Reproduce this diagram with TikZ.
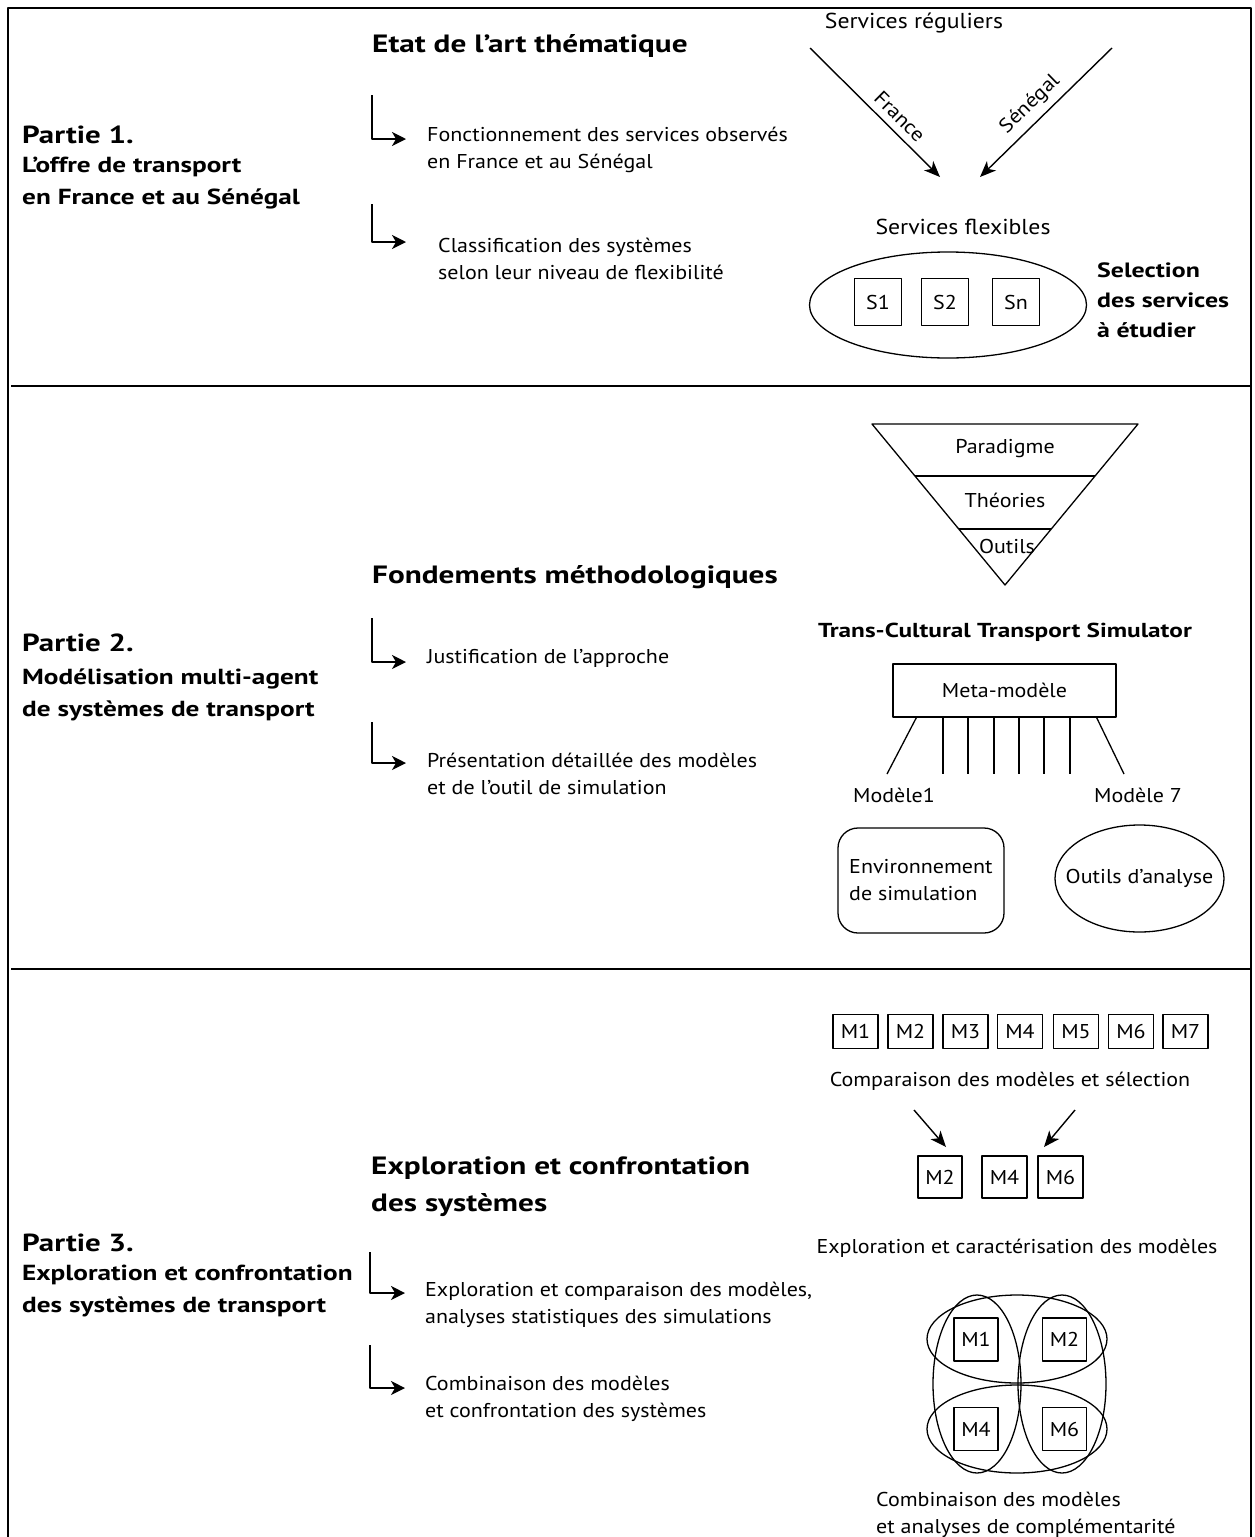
\documentclass[tikz,border=0pt]{standalone}
\usepackage{fontspec}
\setmainfont{PT Sans}[FakeStretch=1.1]
\newfontfamily\bfam{PT Sans}[FakeStretch=1.25]
\usetikzlibrary{arrows.meta,shapes.geometric,calc}
\begin{document}
\begin{tikzpicture}[x=1pt,y=-1pt,line join=round,
  body/.style={font=\fontsize{20}{27}\selectfont, inner sep=0pt, align=left, anchor=west},
  ctext/.style={font=\fontsize{20}{27}\selectfont, inner sep=0pt, align=center},
  big/.style={font=\fontsize{21.6}{27}\selectfont, inner sep=0pt},
  head/.style={font=\fontsize{25}{37}\selectfont\bfam\bfseries, inner sep=0pt, align=left, anchor=west},
  partt/.style={font=\fontsize{24.7}{30}\selectfont\bfam\bfseries, inner sep=0pt, anchor=west},
  partsub/.style={font=\fontsize{21.8}{31.5}\selectfont\bfam\bfseries, inner sep=0pt, align=left, anchor=west},
  selt/.style={font=\fontsize{20.7}{30}\selectfont\bfam\bfseries, inner sep=0pt, align=left, anchor=west},
  sbox/.style={draw, line width=1.3pt, inner sep=0pt, minimum width=47pt, minimum height=47pt, font=\fontsize{20}{24}\selectfont},
  mbox/.style={draw, line width=1.3pt, inner sep=0pt, minimum width=45pt, minimum height=34pt, font=\fontsize{20}{24}\selectfont},
  nbox/.style={draw, line width=1.3pt, inner sep=0pt, minimum width=45pt, minimum height=42pt, font=\fontsize{20}{24}\selectfont},
  vbox/.style={draw, line width=1.3pt, inner sep=0pt, minimum width=44pt, minimum height=43pt, font=\fontsize{20}{24}\selectfont},
  elbow/.style={-{Stealth[length=14pt,width=14pt,inset=4pt]}, line width=1.4pt},
  diag/.style={-{Stealth[length=16pt,width=13pt,inset=4.5pt]}, line width=1.4pt},
  thin/.style={line width=1.3pt},
  rule/.style={line width=1.6pt}
]
\useasboundingbox (0,0) rectangle (1255,1537);
\fill[white] (0,0) rectangle (1255,1537);

% frame and dividers
\draw[thin] (8,1560) -- (8,8) -- (1251,8) -- (1251,1560);
\coordinate (d1a) at (11,386); \coordinate (d1b) at (1251,386);
\coordinate (d2a) at (11,969); \coordinate (d2b) at (1251,969);
\draw[rule] (d1a) -- (d1b);
\draw[rule] (d2a) -- (d2b);

% ---------- Part 1 ----------
\node[partt] (p1) at (22,135) {Partie 1.};
\node[partsub] (p1s) at (22,183) {L’offre de transport\\en France et au Sénégal};
\node[head] (h1) at (372,46) {Etat de l’art thématique};

\coordinate (e1s) at (372,95);  \coordinate (e1e) at (406,139);
\coordinate (e2s) at (372,204); \coordinate (e2e) at (406,242);
\draw[elbow] (e1s) |- (e1e);
\draw[elbow] (e2s) |- (e2e);
\node[body] (t11) at (427,150) {Fonctionnement des services observés\\en France et au Sénégal};
\node[body] (t12) at (438,259) {Classification des systèmes\\selon leur niveau de flexibilité};

\node[big] (sreg) at (914,23) {Services réguliers};
\coordinate (fr1) at (810,48);  \coordinate (fr2) at (940,177);
\coordinate (sn1) at (1112,48); \coordinate (sn2) at (980,177);
\draw[diag] (fr1) -- node[pos=0.61, sloped, above=7pt, ctext] {France} (fr2);
\draw[diag] (sn1) -- node[pos=0.53, sloped, above=7pt, ctext] {Sénégal} (sn2);

\node[big] (sflex) at (963,227) {Services flexibles};
\node[draw, ellipse, thin, minimum width=277pt, minimum height=106pt, inner sep=0pt] (ell1) at (948,305) {};
\node[sbox] (s1) at (878,302) {S1};
\node[sbox] (s2) at (945,302) {S2};
\node[sbox] (sn) at (1016,302) {Sn};
\node[selt] (sel) at (1097,300) {Selection\\des services\\à étudier};

% ---------- Part 2 ----------
\node[partt] (p2) at (22,643) {Partie 2.};
\node[partsub] (p2s) at (22,695) {Modélisation multi-agent\\de systèmes de transport};
\node[head] (h2) at (372,577) {Fondements méthodologiques};

\coordinate (e3s) at (372,618); \coordinate (e3e) at (406,662);
\coordinate (e4s) at (372,722); \coordinate (e4e) at (406,763);
\draw[elbow] (e3s) |- (e3e);
\draw[elbow] (e4s) |- (e4e);
\node[body] (t21) at (427,658) {Justification de l’approche};
\node[body] (t22) at (427,774) {Présentation détaillée des modèles\\et de l’outil de simulation};

% inverted pyramid
\coordinate (ta) at (872,424); \coordinate (tb) at (1138,424); \coordinate (tc) at (1005,585);
\draw[thin] (ta) -- (tb) -- (tc) -- cycle;
\coordinate (l1a) at ($(ta)!0.323!(tc)$); \coordinate (l1b) at ($(tb)!0.323!(tc)$);
\coordinate (l2a) at ($(ta)!0.652!(tc)$); \coordinate (l2b) at ($(tb)!0.652!(tc)$);
\draw[thin] (l1a) -- (l1b);
\draw[thin] (l2a) -- (l2b);
\node[ctext] (par) at (1005,449) {Paradigme};
\node[ctext] (the) at (1005,500) {Théories};
\node[ctext] (out) at (1007,546) {Outils};

\node[font=\fontsize{20.2}{26}\selectfont\bfam\bfseries, inner sep=0pt] (tcts) at (1005,632) {Trans-Cultural Transport Simulator};
\node[draw, thin, minimum width=223pt, minimum height=53pt, inner sep=0pt, font=\fontsize{20}{24}\selectfont] (meta) at (1004.5,690.5) {Meta-modèle};
\coordinate (me1) at (887,774);
\coordinate (me7) at (1124,774);
\draw[thin] ([xshift=24pt]meta.south west) -- (me1);
\draw[thin] ([xshift=-20pt]meta.south east) -- (me7);
\foreach \i/\xx in {1/943,2/968,3/994,4/1019,5/1044,6/1070}{
  \coordinate (mv\i) at (\xx,774);
  \draw[thin] (meta.south -| mv\i) -- (mv\i);
}
\node[ctext] (mod1) at (894,795) {Modèle1};
\node[ctext] (mod7) at (1138,795) {Modèle 7};
\node[draw, thin, rounded corners=20pt, minimum width=166pt, minimum height=105pt, inner sep=0pt] (envb) at (921,880.5) {};
\node[body] (envt) at (849,880) {Environnement\\de simulation};
\node[draw, ellipse, thin, minimum width=169pt, minimum height=107pt, inner sep=0pt] (outa) at (1139.5,878.5) {};
\node[ctext] (outat) at (1139.5,878) {Outils d’analyse};

% ---------- Part 3 ----------
\node[partt] (p3) at (22,1243) {Partie 3.};
\node[partsub] (p3s) at (22,1291) {Exploration et confrontation\\des systèmes de transport};
\node[head] (h3) at (371,1187) {Exploration et confrontation\\des systèmes};

\coordinate (e5s) at (370,1252); \coordinate (e5e) at (405,1293);
\coordinate (e6s) at (370,1345); \coordinate (e6e) at (405,1388);
\draw[elbow] (e5s) |- (e5e);
\draw[elbow] (e6s) |- (e6e);
\node[body] (t31) at (425,1305) {Exploration et comparaison des modèles,\\analyses statistiques des simulations};
\node[body] (t32) at (425,1399) {Combinaison des modèles\\et confrontation des systèmes};

\foreach \i/\xx in {1/855.5,2/910.5,3/965.5,4/1020,5/1076,6/1131,7/1185.5}{
  \node[mbox] (M\i) at (\xx,1031.5) {M\i};
}
\node[ctext] (comp) at (1010,1081) {Comparaison des modèles et sélection};
\coordinate (ca1) at (914,1110); \coordinate (ca2) at (946,1147);
\coordinate (cb1) at (1075,1110); \coordinate (cb2) at (1044,1147);
\draw[diag] (ca1) -- (ca2);
\draw[diag] (cb1) -- (cb2);
\node[nbox, minimum width=44pt] (N2) at (940,1177) {M2};
\node[nbox] (N4) at (1004.5,1177) {M4};
\node[nbox] (N6) at (1060.5,1177) {M6};

\node[ctext] (expl) at (1017,1248) {Exploration et caractérisation des modèles};

\draw[thin] (1017,1339) ellipse [x radius=90, y radius=44];
\draw[thin] (1017,1429) ellipse [x radius=90, y radius=44];
\draw[thin] (977,1384) ellipse [x radius=44, y radius=89];
\draw[thin] (1062,1384) ellipse [x radius=44, y radius=89];
\node[vbox, fill=white] (V1) at (976,1339.5) {M1};
\node[vbox, fill=white] (V2) at (1064.5,1339.5) {M2};
\node[vbox, fill=white] (V4) at (976,1429) {M4};
\node[vbox, fill=white] (V6) at (1064.5,1429) {M6};
\node[body] (combt) at (876,1515) {Combinaison des modèles\\et analyses de complémentarité};
\end{tikzpicture}
\end{document}
